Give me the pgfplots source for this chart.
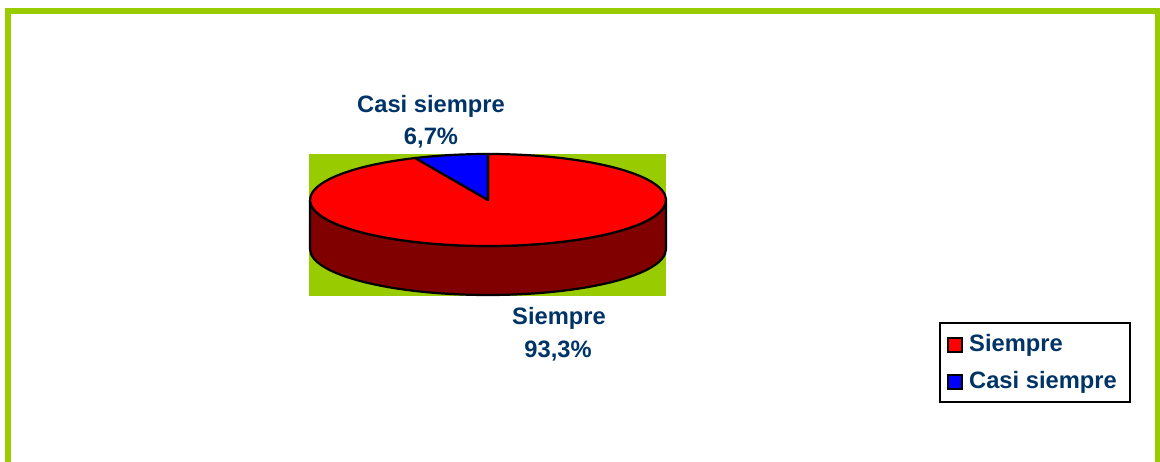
\documentclass[border=0pt]{standalone}
\usepackage{fontspec}
\setmainfont{Liberation Sans}
\usepackage{pgfplots}
\usepackage{pgfplotstable}
\pgfplotsset{compat=1.18}
\definecolor{bordergreen}{RGB}{153,204,0}
\definecolor{labelblue}{RGB}{0,51,102}
\definecolor{siemprered}{RGB}{255,0,0}
\definecolor{siempreside}{RGB}{128,0,0}
\definecolor{casiblue}{RGB}{0,0,255}

\pgfplotstableread{
label value
Siempre 93.3
Casi_siempre 6.7
}\piedata
\pgfplotstablegetelem{0}{value}\of\piedata
\pgfmathsetmacro\vA{\pgfplotsretval}
\pgfplotstablegetelem{1}{value}\of\piedata
\pgfmathsetmacro\vB{\pgfplotsretval}
\pgfmathsetmacro\angB{90+3.6*\vB}
\pgfmathsetmacro\angBend{90+360}

\begin{document}
\begin{tikzpicture}
\begin{axis}[
  scale only axis, width=1160pt, height=461pt,
  xmin=0, xmax=1160, ymin=0, ymax=461,
  hide axis, clip=true,
]
% outer chart border
\draw[bordergreen, line width=6pt] (axis cs:8,-30) -- (axis cs:8,450) -- (axis cs:1157.5,450) -- (axis cs:1157.5,-30);
% plot area
\fill[bordergreen] (axis cs:309,165) rectangle (axis cs:666,307);
% side of the pie (front half)
\filldraw[fill=siempreside, draw=black, line width=2.2pt, line join=round]
  (axis cs:310,261) arc[start angle=180, end angle=360, x radius=178pt, y radius=46pt]
  -- (axis cs:666,212) arc[start angle=360, end angle=180, x radius=178pt, y radius=46pt] -- cycle;
% top face: Siempre
\filldraw[fill=siemprered, draw=black, line width=2.2pt, line join=round]
  (axis cs:488,261) -- ++(\angB:178pt and 46pt)
  arc[start angle=\angB, end angle=\angBend, x radius=178pt, y radius=46pt] -- cycle;
% top face: Casi siempre
\filldraw[fill=casiblue, draw=black, line width=2.2pt, line join=round]
  (axis cs:488,261) -- ++(90:178pt and 46pt)
  arc[start angle=90, end angle=\angB, x radius=178pt, y radius=46pt] -- cycle;
% data labels
\node[text=labelblue, font=\fontsize{23.7}{28}\selectfont\bfseries] at (axis cs:431,355) {Casi siempre};
\node[text=labelblue, font=\fontsize{23.7}{28}\selectfont\bfseries] at (axis cs:431,323) {6,7\%};
\node[text=labelblue, font=\fontsize{23.7}{28}\selectfont\bfseries] at (axis cs:559,143) {Siempre};
\node[text=labelblue, font=\fontsize{23.7}{28}\selectfont\bfseries] at (axis cs:558,110) {93,3\%};
% legend
\draw[black, line width=2pt, fill=white] (axis cs:940,59) rectangle (axis cs:1130,138);
\filldraw[fill=siemprered, draw=black, line width=2pt] (axis cs:948,109) rectangle (axis cs:962,123);
\filldraw[fill=casiblue, draw=black, line width=2pt] (axis cs:948,72) rectangle (axis cs:962,86);
\node[anchor=west, inner sep=0pt, text=labelblue, font=\fontsize{23.7}{28}\selectfont\bfseries] at (axis cs:969,116) {Siempre};
\node[anchor=west, inner sep=0pt, text=labelblue, font=\fontsize{23.7}{28}\selectfont\bfseries] at (axis cs:969,79) {Casi siempre};
\end{axis}
\pgfresetboundingbox
\path[use as bounding box] (0,0) rectangle (1160pt,461pt);
\end{tikzpicture}
\end{document}
